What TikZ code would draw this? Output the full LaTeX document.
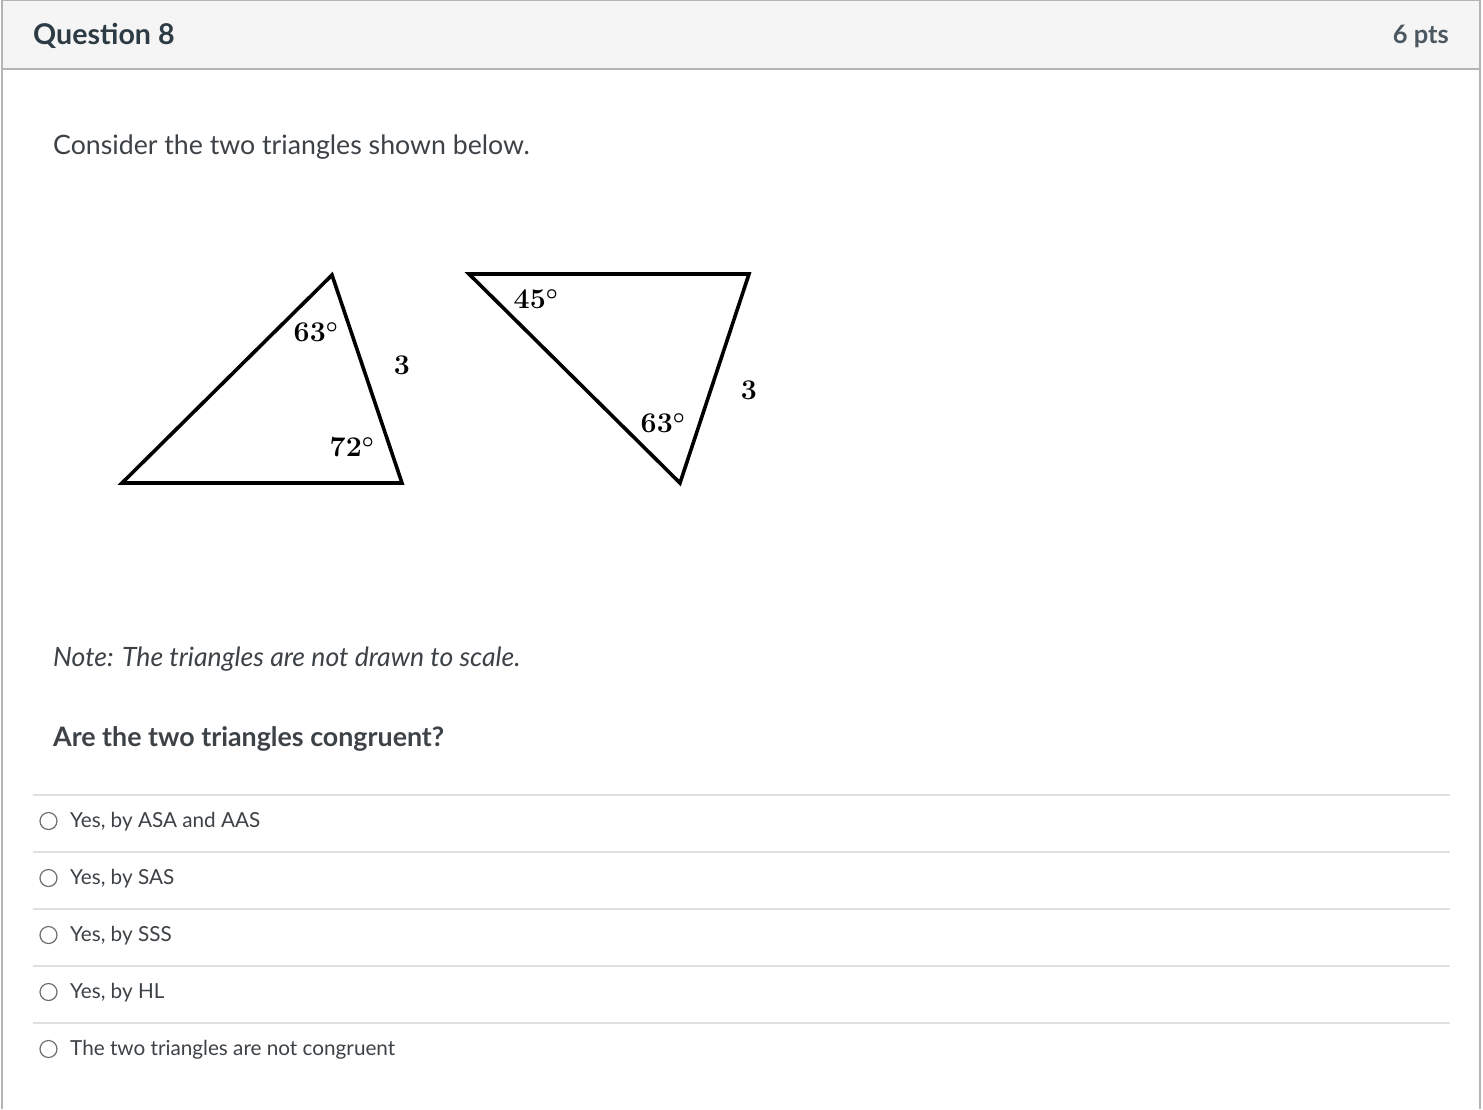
\documentclass[tikz,border=0pt]{standalone}
\usepackage{fontspec}
\setmainfont{Lato}
\newfontfamily\geofont{Latin Modern Roman}
\definecolor{txt}{HTML}{3D4247}
\definecolor{head}{HTML}{2D3B45}
\definecolor{hdrbg}{HTML}{F5F5F5}
\definecolor{frame}{HTML}{B4B4B4}
\definecolor{sep}{HTML}{E0E0E0}
\definecolor{radio}{HTML}{6E6E6E}
\begin{document}
\begin{tikzpicture}[x=1pt,y=-1pt,
  body/.style={anchor=base west,inner sep=0pt,text=txt,font=\fontsize{26.7}{30}\selectfont},
  opt/.style={anchor=base west,inner sep=0pt,text=txt,font=\fontsize{20.7}{24}\selectfont},
  geo/.style={inner sep=0pt,font=\geofont\fontsize{28.5}{30}\selectfont\bfseries\boldmath},
  tri/.style={line width=3.6pt,line join=miter},
  rad/.style={circle,draw=radio,line width=1.2pt,minimum size=17pt,inner sep=0pt},
  sepline/.style={draw=sep,line width=1.2pt}]
\useasboundingbox (0,0) rectangle (1483,1109);
\fill[white] (0,0) rectangle (1483,1109);
% header
\fill[hdrbg] (2,0) rectangle (1480,69);
\draw[frame,line width=1.3pt] (2,1109) -- (2,0.6) -- (1480,0.6) -- (1480,1109);
\draw[frame,line width=1.3pt] (2,69) -- (1480,69);
\node[anchor=base west,inner sep=0pt,text=head,font=\fontsize{28.6}{32}\selectfont\bfseries] (q) at (33,44) {Question 8};
\node[anchor=base east,inner sep=0pt,text=head!85!white,font=\fontsize{25.5}{30}\selectfont\bfseries] (pts) at (1449,43) {6 pts};
% text
\node[body] (intro) at (53,154) {Consider the two triangles shown below.};
% triangle 1
\coordinate (A1) at (122,483);
\coordinate (B1) at (332,275);
\coordinate (C1) at (402,483);
\draw[tri] (A1) -- (B1) -- (C1) -- cycle;
\node[geo] (a63) at (316,332) {63$^\circ$};
\node[geo] (s1) at (402,365) {3};
\node[geo] (a72) at (352,447) {72$^\circ$};
% triangle 2
\coordinate (A2) at (469,274);
\coordinate (B2) at (749,274);
\coordinate (C2) at (680,483);
\draw[tri] (A2) -- (B2) -- (C2) -- cycle;
\node[geo] (a45) at (536,299) {45$^\circ$};
\node[geo] (b63) at (663,423) {63$^\circ$};
\node[geo] (s2) at (749,390) {3};
% notes
\node[body,font=\fontsize{26.6}{30}\selectfont\itshape] (note) at (53,666) {Note: The triangles are not drawn to scale.};
\node[body,font=\fontsize{26.8}{30}\selectfont\bfseries] (ask) at (53,746) {Are the two triangles congruent?};
% options
\foreach \y in {795,852,909,966,1023} \draw[sepline] (33,\y) -- (1450,\y);
\node[rad] (r1) at (48.5,821) {};
\node[opt] (o1) at (70,827) {Yes, by ASA and AAS};
\node[rad] (r2) at (48.5,878) {};
\node[opt] (o2) at (70,884) {Yes, by SAS};
\node[rad] (r3) at (48.5,935) {};
\node[opt] (o3) at (70,941) {Yes, by SSS};
\node[rad] (r4) at (48.5,992) {};
\node[opt] (o4) at (70,998) {Yes, by HL};
\node[rad] (r5) at (48.5,1049) {};
\node[opt] (o5) at (70,1055) {The two triangles are not congruent};
\end{tikzpicture}
\end{document}
